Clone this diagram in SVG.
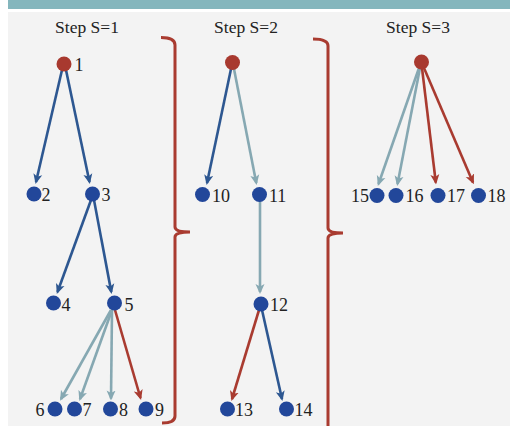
<svg xmlns="http://www.w3.org/2000/svg" width="510" height="426" viewBox="0 0 510 426">
<defs>
<style>
.t{font-family:"Liberation Serif","Times New Roman",serif;font-size:18px;fill:#222}
.h{font-size:17.5px}
.nb{fill:#22479a}
.nr{fill:#a8392f}
.eb{stroke:#2d5791;stroke-width:2.6;fill:none;marker-end:url(#ab)}
.eg{stroke:#86a8b2;stroke-width:2.6;fill:none;marker-end:url(#ag)}
.er{stroke:#a93b30;stroke-width:2.6;fill:none;marker-end:url(#ar)}
.br{stroke:#a93b30;stroke-width:3;fill:none}
</style>
<marker id="ab" viewBox="0 0 10 10" markerWidth="10" markerHeight="10" markerUnits="userSpaceOnUse" refX="8" refY="5" orient="auto"><path d="M0,0.5 L10,5 L0,9.5 L2.5,5 z" fill="#2d5791"/></marker>
<marker id="ag" viewBox="0 0 10 10" markerWidth="10" markerHeight="10" markerUnits="userSpaceOnUse" refX="8" refY="5" orient="auto"><path d="M0,0.5 L10,5 L0,9.5 L2.5,5 z" fill="#86a8b2"/></marker>
<marker id="ar" viewBox="0 0 10 10" markerWidth="10" markerHeight="10" markerUnits="userSpaceOnUse" refX="8" refY="5" orient="auto"><path d="M0,0.5 L10,5 L0,9.5 L2.5,5 z" fill="#a93b30"/></marker>
</defs>
<rect x="0" y="0" width="510" height="426" fill="#ffffff"/>
<rect x="8" y="0" width="502" height="9" fill="#84b6bd"/>
<rect x="8" y="12" width="502" height="414" fill="#f3f3f3"/>

<g id="titles">
<text class="t h" x="87" y="33" text-anchor="middle">Step S=1</text>
<text class="t h" x="246" y="33" text-anchor="middle">Step S=2</text>
<text class="t h" x="418" y="33" text-anchor="middle">Step S=3</text>
</g>

<g id="braces">
<path class="br" d="M161,37.5 Q175,37.5 175,45 L175,227 Q175,232 190,232 Q175,232 175,237 L175,416 Q175,423 162,423"/>
<path class="br" d="M313,39 Q328,39 328,46 L328,228 Q328,233 343,233 Q328,233 328,238 L328,428"/>
</g>

<g id="connectors">
<line class="eb" x1="62" y1="70" x2="36" y2="182"/>
<line class="eb" x1="66" y1="70" x2="89.5" y2="182"/>
<line class="eb" x1="91" y1="200" x2="57.5" y2="292"/>
<line class="eb" x1="94" y1="200" x2="111.3" y2="292"/>
<line class="eg" x1="111" y1="310" x2="61" y2="399"/>
<line class="eg" x1="112" y1="310" x2="80" y2="399"/>
<line class="eg" x1="112" y1="310" x2="111" y2="398.5"/>
<line class="er" x1="115" y1="310" x2="140.5" y2="398"/>

<line class="eb" x1="231" y1="69" x2="207" y2="183"/>
<line class="eg" x1="234" y1="69" x2="256.3" y2="183"/>
<line class="eg" x1="260" y1="201" x2="260" y2="292"/>
<line class="er" x1="259" y1="310" x2="232" y2="399"/>
<line class="eb" x1="262" y1="310" x2="282" y2="399"/>

<line class="eg" x1="419" y1="68" x2="378.5" y2="184"/>
<line class="eg" x1="420" y1="68" x2="397.5" y2="184"/>
<line class="er" x1="422" y1="68" x2="435.8" y2="182.5"/>
<line class="er" x1="424" y1="68" x2="473" y2="182.5"/>
</g>

<g id="n1"><circle class="nr" cx="64" cy="64" r="7.5"/><text class="t" x="74.5" y="71">1</text></g>
<g id="n2"><circle class="nb" cx="34" cy="194" r="7.5"/><text class="t" x="41.5" y="200.5">2</text></g>
<g id="n3"><circle class="nb" cx="92.5" cy="194" r="7.5"/><text class="t" x="101.5" y="200.5">3</text></g>
<g id="n4"><circle class="nb" cx="53.5" cy="303" r="7.5"/><text class="t" x="61.5" y="310.5">4</text></g>
<g id="n5"><circle class="nb" cx="114.5" cy="303" r="7.5"/><text class="t" x="124.5" y="310.5">5</text></g>
<g id="n6"><circle class="nb" cx="55" cy="409" r="7.5"/><text class="t" x="35.5" y="416">6</text></g>
<g id="n7"><circle class="nb" cx="74.5" cy="409" r="7.5"/><text class="t" x="82.5" y="416">7</text></g>
<g id="n8"><circle class="nb" cx="110.5" cy="409" r="7.5"/><text class="t" x="119" y="416">8</text></g>
<g id="n9"><circle class="nb" cx="146" cy="409" r="7.5"/><text class="t" x="155" y="416">9</text></g>

<g id="s2top"><circle class="nr" cx="232.5" cy="62.5" r="7.5"/></g>
<g id="n10"><circle class="nb" cx="202.5" cy="194.5" r="7.5"/><text class="t" x="212" y="202">10</text></g>
<g id="n11"><circle class="nb" cx="259.5" cy="194.5" r="7.5"/><text class="t" x="269" y="202">11</text></g>
<g id="n12"><circle class="nb" cx="261" cy="304" r="7.5"/><text class="t" x="270" y="311">12</text></g>
<g id="n13"><circle class="nb" cx="227.5" cy="409" r="7.5"/><text class="t" x="235" y="416">13</text></g>
<g id="n14"><circle class="nb" cx="286.5" cy="409" r="7.5"/><text class="t" x="294.5" y="416">14</text></g>

<g id="s3top"><circle class="nr" cx="421.5" cy="62" r="7.5"/></g>
<g id="n15"><circle class="nb" cx="377" cy="195.5" r="7.5"/><text class="t" x="369" y="202" text-anchor="end">15</text></g>
<g id="n16"><circle class="nb" cx="396" cy="195.5" r="7.5"/><text class="t" x="405.5" y="202">16</text></g>
<g id="n17"><circle class="nb" cx="438" cy="195.5" r="7.5"/><text class="t" x="447" y="202">17</text></g>
<g id="n18"><circle class="nb" cx="478.5" cy="195.5" r="7.5"/><text class="t" x="487.5" y="202">18</text></g>
</svg>
